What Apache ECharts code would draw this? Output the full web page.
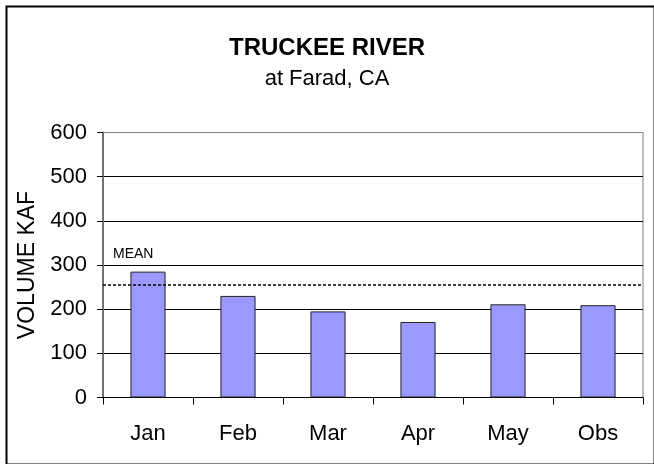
<!DOCTYPE html>
<html>
<head>
<meta charset="utf-8">
<script src="https://cdn.jsdelivr.net/npm/echarts@6/dist/echarts.min.js"></script>
<style>html,body{margin:0;padding:0;background:#fff}#c{width:654px;height:464px}</style>
</head>
<body>
<div id="c"></div>
<script>
const titleText = "TRUCKEE RIVER";
const subtitleText = "at Farad, CA";
const yAxisName = "VOLUME KAF";
const categories = ["Jan", "Feb", "Mar", "Apr", "May", "Obs"];
const volumes = [285, 230, 195, 171, 211, 209];
const meanValue = 255;
const meanLabel = "MEAN";
const yMin = 0, yMax = 600, yStep = 100;

const font = "Arial, 'Liberation Sans', sans-serif";
const chart = echarts.init(document.getElementById('c'), null, {renderer: 'canvas'});
chart.setOption({
  animation: false,
  backgroundColor: '#fff',
  title: [
    {text: titleText, left: 'center', top: 31,
     textStyle: {fontFamily: font, fontSize: 24, fontWeight: 'bold', color: '#000'}},
    {text: subtitleText, left: 'center', top: 63,
     textStyle: {fontFamily: font, fontSize: 22, fontWeight: 'normal', color: '#000'}}
  ],
  graphic: [{
    type: 'rect', left: 4, top: 4, z: -1,
    shape: {width: 648, height: 458},
    style: {fill: 'none', stroke: '#000', lineWidth: 2}
  }],
  grid: {left: 103, right: 11, top: 132.5, bottom: 66.5,
         show: true, borderColor: '#808080', borderWidth: 1, backgroundColor: 'transparent'},
  xAxis: {
    type: 'category', data: categories, boundaryGap: true,
    axisLine: {lineStyle: {color: '#000', width: 1}},
    axisTick: {show: true, length: 7, inside: false, alignWithLabel: false, lineStyle: {color: '#000'}},
    axisLabel: {fontFamily: font, fontSize: 22, color: '#000', margin: 25}
  },
  yAxis: {
    type: 'value', min: yMin, max: yMax, interval: yStep,
    name: yAxisName, nameLocation: 'middle', nameGap: 58, nameRotate: 90,
    nameTextStyle: {fontFamily: font, fontSize: 23, color: '#000'},
    axisLine: {show: true, lineStyle: {color: '#707070', width: 2}},
    axisTick: {show: true, length: 6, lineStyle: {color: '#000'}},
    axisLabel: {fontFamily: font, fontSize: 22, color: '#000', margin: 16},
    splitLine: {show: true, showMaxLine: false, showMinLine: false, lineStyle: {color: '#000', width: 1}}
  },
  series: [{
    type: 'bar', data: volumes, barWidth: '39%',
    itemStyle: {color: '#9999FF', borderColor: '#222', borderWidth: 1},
    markLine: {
      silent: true, symbol: 'none',
      lineStyle: {color: '#000', type: [3, 2], width: 1.5},
      data: [{yAxis: meanValue}],
      label: {show: true, formatter: meanLabel, position: 'insideStartTop',
              distance: [10, 24], fontFamily: font, fontSize: 14, color: '#000'}
    }
  }]
});
</script>
</body>
</html>
